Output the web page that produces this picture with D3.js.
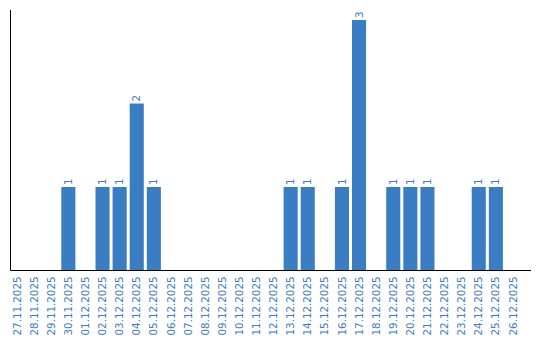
<!DOCTYPE html>
<html>
<head>
	<meta charset="utf-8">
	<script src="https://cdnjs.cloudflare.com/ajax/libs/d3/7.8.5/d3.min.js"></script>
	<style>
		body { margin: 0; background: #fff; }
		text { font-family: 'DejaVu Sans', sans-serif; font-size: 10.3px; fill: #3a7dc2; }
	</style>
</head>
<body>
<div id="chart"></div>
<script>

//Data
var dates = ["27.11.2025","28.11.2025","29.11.2025","30.11.2025","01.12.2025","02.12.2025",
	"03.12.2025","04.12.2025","05.12.2025","06.12.2025","07.12.2025","08.12.2025","09.12.2025",
	"10.12.2025","11.12.2025","12.12.2025","13.12.2025","14.12.2025","15.12.2025","16.12.2025",
	"17.12.2025","18.12.2025","19.12.2025","20.12.2025","21.12.2025","22.12.2025","23.12.2025",
	"24.12.2025","25.12.2025","26.12.2025"];
var counts = [0,0,0,1,0,1,1,2,1,0,0,0,0,0,0,0,1,1,0,1,3,0,1,1,1,0,0,1,1,0];

var width = 540, height = 340;
var chartLeft = 10.5, baseline = 270.5, chartTop = 10;

var svg = d3.select("#chart").append("svg")
	.attr("width", width)
	.attr("height", height);

//Scales
var x = d3.scaleBand()
	.domain(dates)
	.range([chartLeft, chartLeft + dates.length * 17])
	.paddingInner(3 / 17)
	.paddingOuter(0);

var y = d3.scaleLinear()
	.domain([0, 3.12])
	.range([baseline, chartTop]);

function center(d) { return x(d) - 0.5 + x.bandwidth() / 2; }

//Bars
svg.selectAll(".bar")
	.data(counts)
   .enter().append("rect")
	.attr("class", "bar")
	.attr("x", function(d, i) { return x(dates[i]) - 0.5; })
	.attr("y", function(d) { return y(d); })
	.attr("width", x.bandwidth())
	.attr("height", function(d) { return baseline - y(d); })
	.style("fill", "#3b7dc2");

//Value labels on top of bars
counts.forEach(function(d, i) {
	if (d <= 0) return;
	svg.append("text")
		.attr("class", "value")
		.attr("transform", "translate(" + center(dates[i]) + "," + (y(d) - 2) + ") rotate(-90)")
		.attr("dy", "0.35em")
		.style("text-anchor", "start")
		.text(d);
});

//Axes lines
svg.append("line")
	.attr("x1", chartLeft).attr("x2", chartLeft)
	.attr("y1", chartTop).attr("y2", baseline)
	.style("stroke", "#000").style("stroke-width", 1);

svg.append("line")
	.attr("x1", chartLeft).attr("x2", 531)
	.attr("y1", baseline).attr("y2", baseline)
	.style("stroke", "#000").style("stroke-width", 1);

//Date labels
svg.selectAll(".tick-label")
	.data(dates)
   .enter().append("text")
	.attr("class", "tick-label")
	.attr("transform", function(d) {
		return "translate(" + center(d) + "," + 276.5 + ") rotate(-90)";
	})
	.attr("dy", "0.35em")
	.style("text-anchor", "end")
	.text(function(d) { return d; });

</script>
</body>
</html>
